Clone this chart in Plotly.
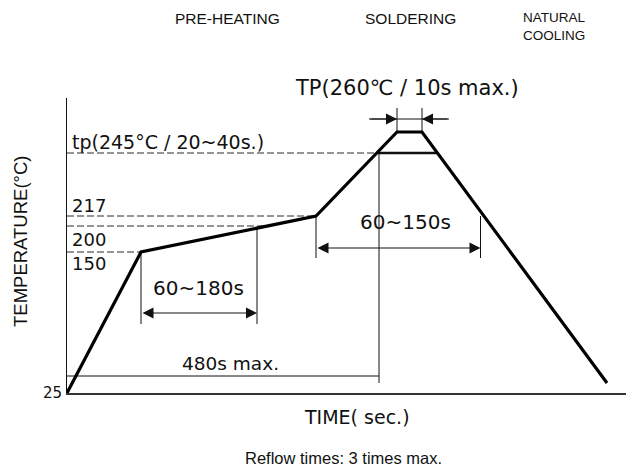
import numpy as np
import plotly.graph_objects as go

# ---- data (schematic units: time along x, schematic height along y) ----
profile_time = [0, 74, 249, 330, 355, 540]
profile_height = [0, 141, 177, 261, 261, 10]

temp_values = [25, 150, 200, 217, 245, 260]
temp_heights = [0, 141, 167, 177, 240, 261]

phase_labels = ["PRE-HEATING", "SOLDERING", "NATURAL<br>COOLING"]
preheat_window = [74, 190]      # 60~180s
liquidus_window = [249, 413.5]  # 60~150s
max_total_time = 312            # 480s max.
peak_window = [330, 355]        # TP 10s max.

X_SPAN, Y_SPAN = 567, 295
MARGIN_T = 90
SANS = "DejaVu Sans, Verdana, sans-serif"
ARIAL = "Liberation Sans, Arial, sans-serif"
INK = "#111111"
H = dict(zip(temp_values, temp_heights))


def seg_time_at(i, h):
    t0, t1 = profile_time[i], profile_time[i + 1]
    h0, h1 = profile_height[i], profile_height[i + 1]
    return t0 + (h - h0) / (h1 - h0) * (t1 - t0)


def seg_height_at(i, t):
    t0, t1 = profile_time[i], profile_time[i + 1]
    h0, h1 = profile_height[i], profile_height[i + 1]
    return h0 + (t - t0) / (t1 - t0) * (h1 - h0)


fig = go.Figure()


def line(xs, ys, width=1.0, dash="solid", color=INK):
    fig.add_trace(go.Scatter(x=xs, y=ys, mode="lines", cliponaxis=False,
                             line=dict(color=color, width=width, dash=dash),
                             hoverinfo="skip", showlegend=False))


# dashed reference levels
t245_rise = seg_time_at(2, H[245])
t245_fall = seg_time_at(4, H[245])
t200 = seg_time_at(1, H[200])
dash = "7px,3px"
dcol = "#2a2a2a"
line([0, t245_rise], [H[245], H[245]], 1, dash, dcol)
line([0, profile_time[2]], [H[217], H[217]], 1, dash, dcol)
line([0, t200], [H[200], H[200]], 1, dash, dcol)
line([0, profile_time[1]], [H[150], H[150]], 1, dash, dcol)

# dimension lines
dim_low = 69
line([preheat_window[0], preheat_window[0]], [dim_low, H[150]], 1)
line([preheat_window[1], preheat_window[1]], [dim_low, seg_height_at(1, preheat_window[1])], 1)
line([liquidus_window[0], liquidus_window[0]], [135, H[217]], 1)
line([liquidus_window[1], liquidus_window[1]], [135, H[217]], 1)
line([0, max_total_time], [17, 17], 1)
line([max_total_time, max_total_time], [10, H[245]], 1)
line([peak_window[0], peak_window[0]], [H[260], 285], 1)
line([peak_window[1], peak_window[1]], [H[260], 285], 1)
line([302, 382], [274, 274], 1)

# soldering level (245) solid
line([t245_rise, t245_fall], [H[245], H[245]], 2.6)
# profile
line(profile_time, profile_height, 3.2, "solid", "#000")


def arrow(x0, y0, x1, y1, both=False):
    fig.add_annotation(x=x1, y=y1, ax=x0, ay=y0, xref="x", yref="y", axref="x", ayref="y",
                       text="", showarrow=True, arrowhead=2, startarrowhead=2,
                       arrowside="end+start" if both else "end",
                       arrowsize=2.2, arrowwidth=1, arrowcolor=INK, standoff=0, startstandoff=0)


arrow(preheat_window[0], 80, preheat_window[1], 80, both=True)
arrow(liquidus_window[0], 145, liquidus_window[1], 145, both=True)
arrow(302, 274, peak_window[0], 274)
arrow(382, 274, peak_window[1], 274)


def text(x, y, s, size, family=SANS, xanchor="center", yanchor="middle", angle=0,
         ypaper=None, pad=1, align="center"):
    fig.add_annotation(x=x / X_SPAN, y=(y / Y_SPAN) if ypaper is None else ypaper,
                       xref="paper", yref="paper", text=s, borderpad=pad, align=align,
                       showarrow=False, xanchor=xanchor, yanchor=yanchor, textangle=angle,
                       font=dict(family=family, size=size, color=INK))


# phase labels (top of the figure)
fig_top = 1 + MARGIN_T / Y_SPAN
text(160, 0, phase_labels[0], 15.5, family=ARIAL, yanchor="top", ypaper=fig_top - 0.5 / Y_SPAN, pad=0)
text(343, 0, phase_labels[1], 15.5, family=ARIAL, yanchor="top", ypaper=fig_top - 0.5 / Y_SPAN, pad=0)
text(455, 0, phase_labels[2], 13.5, family=ARIAL, xanchor="left", yanchor="top", align="left",
     ypaper=fig_top - 0.5 / Y_SPAN, pad=0)

text(340, 305, "TP(260℃ / 10s max.)", 21)
text(3, 251, "tp(245°C / 20~40s.)", 19, xanchor="left")
text(3, 188, str(temp_values[3]), 18, xanchor="left")
text(3, 154, str(temp_values[2]), 18, xanchor="left")
text(3, 130, str(temp_values[1]), 18, xanchor="left")
text(-3, 0, str(temp_values[0]), 15, xanchor="right")
text(131, 105, "60~180s", 20)
text(338, 171, "60~150s", 20)
text(163, 30, "480s max.", 18.5)
text(290, -24, "TIME( sec.)", 19)
text(276, -65, "Reflow times: 3 times max.", 16.5, family=ARIAL)
text(-47, 152, "TEMPERATURE(°C)", 18.5, family=ARIAL, angle=-90)

fig.update_layout(
    width=626, height=465,
    margin=dict(l=59, r=0, t=MARGIN_T, b=80, pad=0),
    paper_bgcolor="white", plot_bgcolor="white",
    showlegend=False,
    xaxis=dict(range=[0, X_SPAN], showline=True, linecolor="#333", linewidth=1.5,
               showticklabels=False, ticks="", showgrid=False, zeroline=False, fixedrange=True),
    yaxis=dict(range=[0, Y_SPAN], showline=True, linecolor=INK, linewidth=1,
               showticklabels=False, ticks="",
               showgrid=False, zeroline=False, fixedrange=True),
)

fig.write_html("out.html")
